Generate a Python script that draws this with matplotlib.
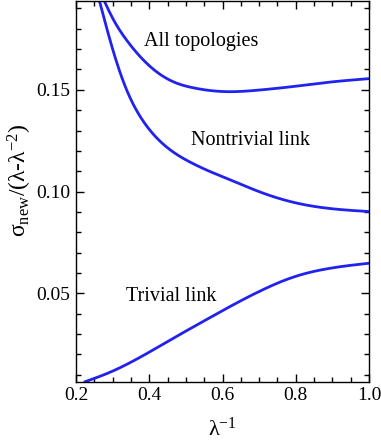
import matplotlib
matplotlib.use("Agg")
import matplotlib.pyplot as plt
from matplotlib.ticker import MultipleLocator, FormatStrFormatter
import numpy as np

plt.rcParams['font.family'] = ['Liberation Serif', 'DejaVu Serif']
plt.rcParams['mathtext.fontset'] = 'custom'
plt.rcParams['mathtext.rm'] = 'Liberation Serif'
plt.rcParams['mathtext.it'] = 'Liberation Serif:italic'

# curves (x = lambda^-1)
x_all = [0.277, 0.300, 0.337, 0.382, 0.428, 0.473, 0.520, 0.564, 0.610, 0.701, 0.792, 0.883, 1.0]
y_all = [0.1937, 0.1852, 0.1747, 0.1650, 0.1578, 0.1534, 0.1510, 0.1497, 0.1491, 0.1499, 0.1516, 0.1536, 0.1555]

x_non = [0.264, 0.300, 0.337, 0.382, 0.428, 0.473, 0.520, 0.564, 0.610, 0.701, 0.792, 0.883, 1.0]
y_non = [0.1937, 0.1700, 0.1505, 0.1350, 0.1250, 0.1185, 0.1137, 0.1100, 0.1066, 0.0999, 0.0948, 0.0919, 0.0902]

x_triv = [0.225, 0.291, 0.382, 0.473, 0.564, 0.610, 0.701, 0.792, 0.883, 1.0]
y_triv = [0.0066, 0.0111, 0.0193, 0.0287, 0.0379, 0.0425, 0.0510, 0.0579, 0.0620, 0.0648]

labels = ['All topologies', 'Nontrivial link', 'Trivial link']
label_x = [0.543, 0.677, 0.4595]
label_y = [0.1717, 0.1228, 0.0461]


def spline(xs, ys, n=300):
    # natural cubic spline through the read points
    x = np.asarray(xs, float); y = np.asarray(ys, float)
    N = len(x); h = np.diff(x)
    A = np.zeros((N, N)); r = np.zeros(N)
    A[0, 0] = A[-1, -1] = 1
    for i in range(1, N - 1):
        A[i, i - 1] = h[i - 1]; A[i, i] = 2 * (h[i - 1] + h[i]); A[i, i + 1] = h[i]
        r[i] = 6 * ((y[i + 1] - y[i]) / h[i] - (y[i] - y[i - 1]) / h[i - 1])
    M = np.linalg.solve(A, r)
    t = np.linspace(x[0], x[-1], n)
    k = np.clip(np.searchsorted(x, t) - 1, 0, N - 2)
    a = x[k + 1] - t; b = t - x[k]; hk = h[k]
    return t, (M[k] * a**3 + M[k + 1] * b**3) / (6 * hk) + (y[k] / hk - M[k] * hk / 6) * a + (y[k + 1] / hk - M[k + 1] * hk / 6) * b


fig = plt.figure(figsize=(3.81, 4.40), dpi=100)
ax = fig.add_axes([0.1995, 0.1325, 0.769, 0.8655])

blue = '#2222ee'
for xs, ys in [(x_all, y_all), (x_non, y_non), (x_triv, y_triv)]:
    t, s = spline(xs, ys)
    ax.plot(t, s, color=blue, lw=2.0)

for lab, lx, ly in zip(labels, label_x, label_y):
    ax.text(lx, ly, lab, fontsize=14.5, ha='center', va='baseline')

ax.set_xlim(0.2, 1.0)
ax.set_ylim(0.0066, 0.1937)
ax.xaxis.set_major_locator(MultipleLocator(0.2))
ax.xaxis.set_minor_locator(MultipleLocator(0.05))
ax.yaxis.set_major_locator(MultipleLocator(0.05))
ax.yaxis.set_minor_locator(MultipleLocator(0.01))
ax.xaxis.set_major_formatter(FormatStrFormatter('%.1f'))
ax.yaxis.set_major_formatter(FormatStrFormatter('%.2f'))
ax.tick_params(which='both', direction='in', top=True, right=True, labelsize=14, pad=4)
ax.tick_params(which='major', length=6, width=1)
ax.tick_params(which='minor', length=3.5, width=1)
for sp in ax.spines.values():
    sp.set_linewidth(1.0)

ax.set_xlabel(r'λ$^{\mathrm{-1}}$', fontsize=16)
ax.xaxis.set_label_coords(0.5, -0.095)
ax.set_ylabel(r'σ$_{\mathrm{ new}}$/(λ-λ$^{\mathrm{-2}}$)', fontsize=17)
ax.yaxis.set_label_coords(-0.145, 0.53)

fig.savefig('out.png', dpi=100)
